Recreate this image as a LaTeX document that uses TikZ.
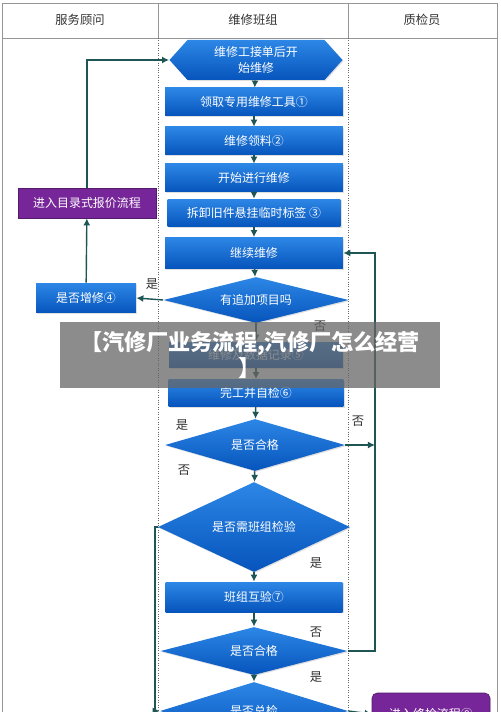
\documentclass[tikz,border=0pt]{standalone}
\usepackage{fontspec}
\newfontfamily\cjk{Noto Sans CJK SC}
\usetikzlibrary{shapes.geometric,shapes.symbols,arrows.meta,shadows}
\definecolor{boxtop}{RGB}{45,135,230}
\definecolor{boxbot}{RGB}{6,84,188}
\definecolor{flowline}{RGB}{30,85,85}
\definecolor{purp}{RGB}{118,38,152}
\definecolor{framegray}{RGB}{150,150,150}
\tikzset{
  stepbox/.style={rectangle, top color=boxtop, bottom color=boxbot, text=white,
    minimum width=3.56cm, minimum height=0.56cm, inner sep=0pt,
    font=\cjk\fontsize{6.8}{8.5}\selectfont,
    drop shadow={opacity=0.25, shadow xshift=0.6pt, shadow yshift=-0.6pt}},
  choice/.style={stepbox, diamond, aspect=3.5},
  purplebox/.style={rectangle, fill=purp, draw=purp!70!black, text=white,
    minimum width=2.76cm, minimum height=0.6cm, inner sep=0pt,
    font=\cjk\fontsize{6.8}{8.5}\selectfont,
    drop shadow={opacity=0.25, shadow xshift=0.6pt, shadow yshift=-0.6pt}},
  lbl/.style={font=\cjk\fontsize{7}{8}\selectfont, text=black!80},
  flow/.style={draw=flowline, line width=0.8pt, -{Latex[length=4pt,width=4pt]}},
}
\begin{document}
\begin{tikzpicture}[x=0.02cm,y=-0.02cm]
\useasboundingbox (0,0) rectangle (500,712);
\clip (0,0) rectangle (500,712);
%\draw[step=50,gray,very thin] (0,0) grid (500,712);
\fill[white] (0,0) rectangle (500,712);

% table frame and lanes
\draw[framegray,thin] (2,3) rectangle (497,730);
\draw[framegray,thin] (2,38) -- (497,38);
\draw[framegray,thin] (158,3) -- (158,38);
\draw[framegray,thin] (348,3) -- (348,38);
\draw[black!60,densely dotted,thin] (158,38) -- (158,712);
\draw[black!60,densely dotted,thin] (348,38) -- (348,712);
\node[lbl] (hadv) at (80,20) {服务顾问};
\node[lbl] (hteam) at (253,20) {维修班组};
\node[lbl] (hqc) at (422,20) {质检员};

% middle lane
\node[stepbox, signal, signal to=west and east, signal pointer angle=96,
  minimum width=3.46cm, minimum height=0.8cm, align=center] (hex) at (256,60)
  {维修工接单后开\\[1pt]始维修};
\node[stepbox] (tool) at (254,102) {领取专用维修工具①};
\node[stepbox] (parts) at (254,141) {维修领料②};
\node[stepbox] (start) at (254,178) {开始进行维修};
\node[stepbox, minimum width=3.46cm] (tag) at (254,213) {拆卸旧件悬挂临时标签\ ③};
\node[stepbox, minimum height=0.62cm] (cont) at (254,253) {继续维修};
\node[choice, minimum width=3.7cm, minimum height=0.92cm] (addq) at (256,300) {有追加项目吗};
\node[stepbox, minimum width=3.48cm, minimum height=0.52cm] (record) at (256,355) {维修及数据记录⑤};
\node[stepbox, minimum width=3.5cm, minimum height=0.54cm] (selfchk) at (256,393) {完工并自检⑥};
\node[choice, minimum width=3.6cm, minimum height=1.04cm] (ok1) at (255,445) {是否合格};
\node[choice, minimum width=3.84cm, minimum height=1.8cm] (needgrp) at (254,527) {是否需班组检验};
\node[stepbox, minimum width=3.54cm, minimum height=0.6cm] (grp) at (254,597) {班组互验⑦};
\node[choice, minimum width=3.74cm, minimum height=0.96cm] (ok2) at (254,651) {是否合格};
\node[choice, minimum width=3.76cm, minimum height=1.16cm] (final) at (254,711) {是否总检};

% left and right lanes
\node[stepbox, minimum width=2cm, minimum height=0.6cm] (addrep) at (86,298) {是否增修④};
\node[purplebox] (quote) at (87,203) {进入目录式报价流程};
\node[purplebox, rounded corners=3pt, minimum width=2.36cm, minimum height=0.84cm] (endchk) at (431,714) {进入终检流程⑧};

\coordinate (rtop) at (375,253);
\coordinate (rmid) at (375,445);
\coordinate (lx) at (155,527);

% connectors
\draw[flow] (hex) -- (tool);
\draw[flow] (tool) -- (parts);
\draw[flow] (parts) -- (start);
\draw[flow] (start) -- (tag);
\draw[flow] (tag) -- (cont);
\draw[flow] (cont) -- (addq);
\draw[flow] (addq) -- (record);
\draw[flow] (record) -- (selfchk);
\draw[flow] (selfchk) -- (ok1);
\draw[flow] (ok1) -- (needgrp);
\draw[flow] (needgrp) -- (grp);
\draw[flow] (grp) -- (ok2);
\draw[flow] (ok2) -- (final);
\draw[flow] (addq.west) -- (addrep.east);
\draw[flow] (addrep) -- (quote);
\draw[flow] (quote.north) |- (hex.west);
\draw[flow] (ok1.east) -- (rmid);
\draw[flow] (ok2.east) -- (ok2.east -| rtop) -- (rtop) -- (cont.east);
\draw[flow] (needgrp.west) -- (lx) |- (final.west);
\draw[flow] (final.east) -- (endchk.west);

% branch labels
\node[lbl] (y1) at (152,284) {是};
\node[lbl] (n1) at (320,326) {否};
\node[lbl] (y2) at (182,425) {是};
\node[lbl] (n2) at (184,470) {否};
\node[lbl] (n3) at (358,421) {否};
\node[lbl] (y3) at (316,563) {是};
\node[lbl] (n4) at (316,632) {否};
\node[lbl] (y4) at (316,677) {是};

% title banner
\node[fill=black!60, fill opacity=0.75, text opacity=1, text=white,
  minimum width=7.62cm, minimum height=1.32cm, inner sep=0pt, align=center,
  font=\cjk\bfseries\fontsize{12.6}{15}\selectfont] (banner) at (250,355)
  {【汽修厂业务流程,汽修厂怎么经营\\】};
\end{tikzpicture}
\end{document}
